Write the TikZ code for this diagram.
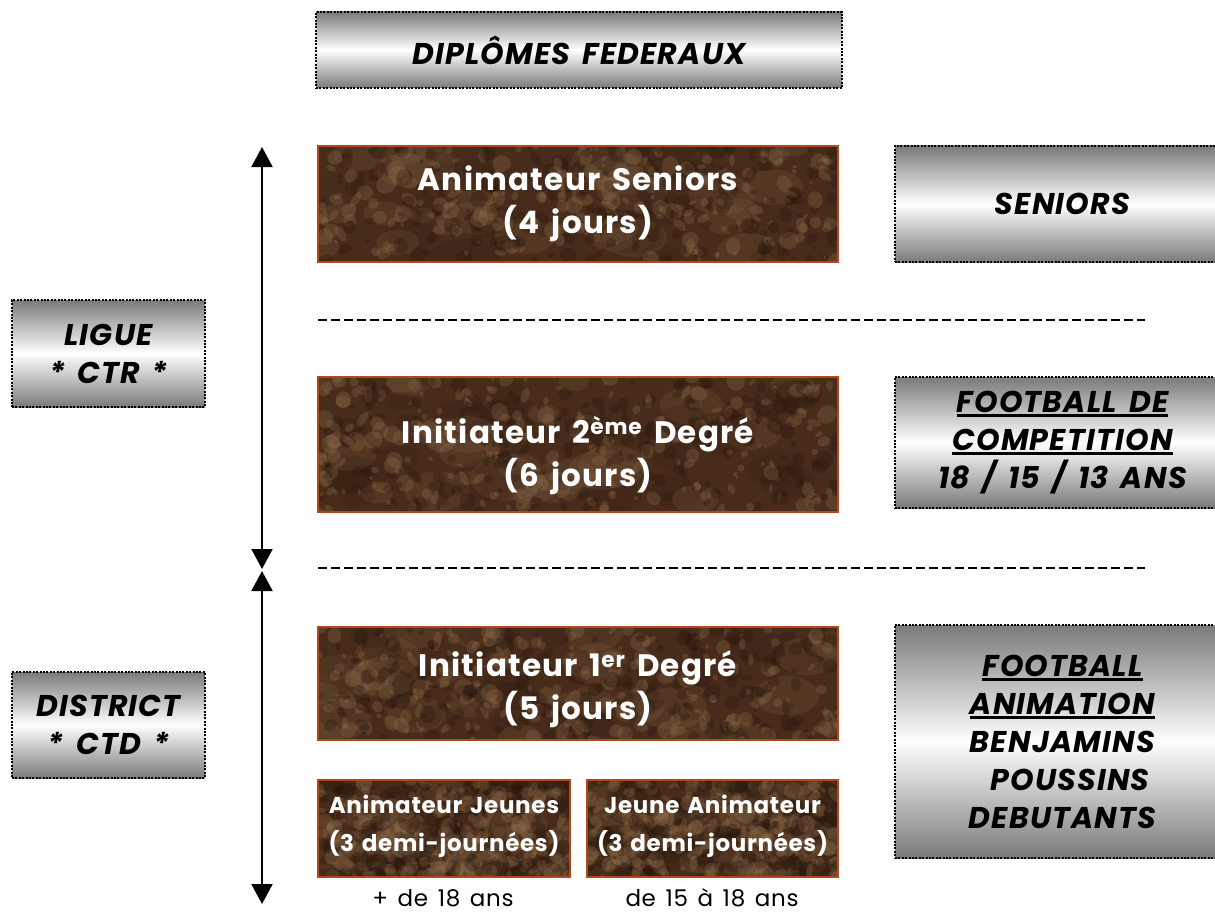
\documentclass[tikz,border=0pt]{standalone}
\usepackage{fontspec}
\setmainfont{Poppins}
\newfontfamily\widef{Poppins}[LetterSpace=4,WordSpace=1.5]
\newfontfamily\widesm{Poppins}[LetterSpace=3,WordSpace=1.4]
\usetikzlibrary{arrows.meta,backgrounds}
\definecolor{brbase}{HTML}{472C1B}
\definecolor{brlight}{HTML}{957250}
\definecolor{brdark}{HTML}{23140A}
\definecolor{brborder}{HTML}{B0481C}
\definecolor{gedge}{HTML}{7A7A7A}
\newsavebox\ulbox
\newcommand{\ulx}[1]{\sbox\ulbox{#1}\rlap{\rule[-0.17em]{\wd\ulbox}{0.1em}}\usebox\ulbox}
\newcommand{\texfill}[4]{%
  \begin{scope}[on background layer]
    \fill[brbase] (#1,#2) rectangle (#3,#4);
    \begin{scope}
      \clip (#1,#2) rectangle (#3,#4);
      \foreach \k in {1,...,45}{
        \pgfmathsetmacro\px{#1+rnd*(#3-#1)}
        \pgfmathsetmacro\py{#2+rnd*(#4-#2)}
        \pgfmathsetmacro\rr{12+rnd*25}
        \pgfmathsetmacro\cc{rnd}
        \ifdim\cc pt<0.5pt \def\tcol{brlight}\else\def\tcol{brdark}\fi
        \fill[\tcol, opacity=0.16] (\px,\py) ellipse [x radius=\rr, y radius=0.6*\rr];
      }
      \foreach \k in {1,...,420}{
        \pgfmathsetmacro\px{#1+rnd*(#3-#1)}
        \pgfmathsetmacro\py{#2+rnd*(#4-#2)}
        \pgfmathsetmacro\rr{2+rnd*7}
        \pgfmathsetmacro\rs{0.4+rnd*0.8}
        \pgfmathsetmacro\ang{rnd*180}
        \pgfmathsetmacro\cc{rnd}
        \ifdim\cc pt<0.5pt \def\tcol{brlight}\else\def\tcol{brdark}\fi
        \fill[\tcol, opacity=0.28, rotate around={\ang:(\px,\py)}] (\px,\py) ellipse [x radius=\rr, y radius=\rs*\rr];
      }
    \end{scope}
  \end{scope}}
\tikzset{
  brownbox/.style={draw=brborder, line width=2pt, inner sep=0pt},
  browntext/.style={text=white, align=center, inner sep=0pt,
    font=\widef\bfseries\fontsize{31}{43}\selectfont},
  smalltext/.style={browntext, font=\widesm\bfseries\fontsize{23}{38}\selectfont},
  graybox/.style={draw=black, line width=2.5pt, dash pattern=on 2pt off 1.4pt,
    top color=gedge, bottom color=gedge, middle color=white, align=center, inner sep=0pt,
    font=\widef\bfseries\itshape\fontsize{30}{38}\selectfont},
  arr/.style={line width=2pt, {Triangle[width=21pt,length=20pt]}-{Triangle[width=21pt,length=20pt]}},
  sepline/.style={line width=2.6pt, dash pattern=on 9pt off 4pt},
  agelabel/.style={font=\widesm\fontsize{23}{27}\selectfont, inner sep=0pt}
}
\begin{document}
\begin{tikzpicture}[x=1pt,y=-1pt]
\useasboundingbox (0,0) rectangle (1215,915);
\pgfmathsetseed{11}
% title
\node[graybox, minimum width=526, minimum height=76] (title) at (579,50) {DIPLÔMES FEDERAUX};
% brown boxes
\node[brownbox, minimum width=520, minimum height=116] (anims) at (578,204) {};
\node[brownbox, minimum width=520, minimum height=135] (init2) at (578,444.5) {};
\node[brownbox, minimum width=520, minimum height=113] (init1) at (578,683.5) {};
\node[brownbox, minimum width=252, minimum height=97] (ajeunes) at (444,828.5) {};
\node[brownbox, minimum width=251, minimum height=97] (janim) at (712.5,828.5) {};
\node[browntext] (animst) at (578,204) {Animateur Seniors\\(4 jours)};
\node[browntext] (init2t) at (578,456) {Initiateur 2\textsuperscript{ème} Degré\\(6 jours)};
\node[browntext] (init1t) at (578,689) {Initiateur 1\textsuperscript{er} Degré\\(5 jours)};
\node[smalltext] (ajeunest) at (444,826) {Animateur Jeunes\\(3 demi-journées)};
\node[smalltext] (janimt) at (712.5,826) {Jeune Animateur\\(3 demi-journées)};
\texfill{318}{146}{838}{262}
\texfill{318}{377}{838}{512}
\texfill{318}{627}{838}{740}
\texfill{318}{780}{570}{877}
\texfill{587}{780}{838}{877}
% gray boxes
\node[graybox, minimum width=335, minimum height=116] (seniors) at (1062.5,204) {SENIORS};
\node[graybox, minimum width=335, minimum height=131] (compet) at (1062.5,442.5) {\ulx{FOOTBALL DE}\\\ulx{COMPETITION}\\18 / 15 / 13 ANS};
\node[graybox, minimum width=335, minimum height=233] (anim) at (1062.5,741.5) {\ulx{FOOTBALL}\\\ulx{ANIMATION}\\BENJAMINS\\\hspace*{0.5em}POUSSINS\\DEBUTANTS};
\node[graybox, minimum width=193, minimum height=107] (ligue) at (108.5,353.5) {LIGUE\\{}* CTR *};
\node[graybox, minimum width=193, minimum height=106] (district) at (108.5,725) {DISTRICT\\{}* CTD *};
% age labels
\node[agelabel] (age1) at (443,898) {+ de 18 ans};
\node[agelabel] (age2) at (712,898) {de 15 à 18 ans};
% arrows
\coordinate (a1top) at (262,147);
\coordinate (a1bot) at (262,569);
\coordinate (a2top) at (262,571);
\coordinate (a2bot) at (262,904);
\draw[arr] (a1top) -- (a1bot);
\draw[arr] (a2top) -- (a2bot);
% separators
\coordinate (d1l) at (318,320);
\coordinate (d1r) at (1145,320);
\coordinate (d2l) at (318,568);
\coordinate (d2r) at (1145,568);
\draw[sepline] (d1l) -- (d1r);
\draw[sepline] (d2l) -- (d2r);
\end{tikzpicture}
\end{document}
